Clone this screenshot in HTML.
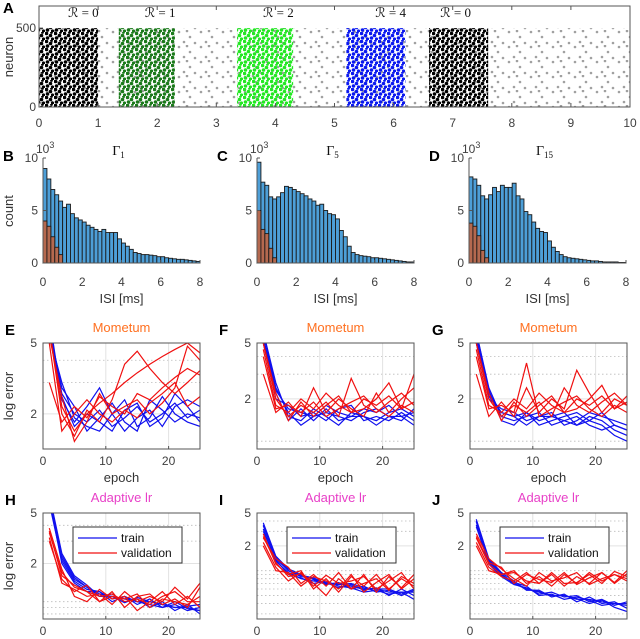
<!DOCTYPE html>
<html><head><meta charset="utf-8">
<style>
html,body{margin:0;padding:0;background:#fff;}
svg{display:block;font-family:"Liberation Sans",sans-serif;}
</style></head>
<body>
<svg id="fig" width="640" height="639" viewBox="0 0 640 639">
<defs>
  <pattern id="grayDots" width="22" height="15" patternUnits="userSpaceOnUse">
    <circle cx="3" cy="2" r="1.3" fill="#a0a0a0"/><circle cx="14" cy="7" r="1.3" fill="#a0a0a0"/>
    <circle cx="8" cy="12" r="1.3" fill="#a0a0a0"/><circle cx="19" cy="13" r="1.3" fill="#a0a0a0"/>
    <circle cx="11" cy="1" r="1.3" fill="#a0a0a0"/>
  </pattern>
  <pattern id="denseBlack" width="9" height="8" patternUnits="userSpaceOnUse">
    <circle cx="1.5" cy="1.5" r="1.8" fill="#000"/><circle cx="5.5" cy="3.5" r="1.8" fill="#000"/><circle cx="2.5" cy="6" r="1.8" fill="#000"/><circle cx="7.5" cy="7" r="1.6" fill="#000"/><circle cx="6.5" cy="0.5" r="1.4" fill="#000"/>
  </pattern>
  <pattern id="denseGreen" width="9" height="8" patternUnits="userSpaceOnUse">
    <circle cx="1.5" cy="1.5" r="1.8" fill="#1a7a1a"/><circle cx="5.5" cy="3.5" r="1.8" fill="#1a7a1a"/><circle cx="2.5" cy="6" r="1.8" fill="#1a7a1a"/><circle cx="7.5" cy="7" r="1.6" fill="#1a7a1a"/><circle cx="6.5" cy="0.5" r="1.4" fill="#1a7a1a"/>
  </pattern>
  <pattern id="denseLime" width="9" height="8" patternUnits="userSpaceOnUse">
    <circle cx="1.5" cy="1.5" r="1.8" fill="#22e822"/><circle cx="5.5" cy="3.5" r="1.8" fill="#22e822"/><circle cx="2.5" cy="6" r="1.8" fill="#22e822"/><circle cx="7.5" cy="7" r="1.6" fill="#22e822"/><circle cx="6.5" cy="0.5" r="1.4" fill="#22e822"/>
  </pattern>
  <pattern id="denseBlue" width="9" height="8" patternUnits="userSpaceOnUse">
    <circle cx="1.5" cy="1.5" r="1.8" fill="#0a18f0"/><circle cx="5.5" cy="3.5" r="1.8" fill="#0a18f0"/><circle cx="2.5" cy="6" r="1.8" fill="#0a18f0"/><circle cx="7.5" cy="7" r="1.6" fill="#0a18f0"/><circle cx="6.5" cy="0.5" r="1.4" fill="#0a18f0"/>
  </pattern>
</defs>
</svg>
<script>
// ---------- Panel A data ----------
const rasterStarts = [0, 1.35, 3.35, 5.2, 6.6];
const rasterEnds   = [1.0, 2.3, 4.3, 6.2, 7.6];
const rasterFills  = ['denseBlack','denseGreen','denseLime','denseBlue','denseBlack'];
const rasterLabels = ['0','1','2','4','0'];
const rasterLabelX = [0.75, 2.05, 4.05, 5.95, 7.05];
const rasterXTicks = [0,1,2,3,4,5,6,7,8,9,10];

// ---------- Histogram data (x10^3) ----------
const histEdges = Array.from({length:40},(_,i)=>i*0.2);
const histB = [9.0,8.0,7.0,6.5,5.9,5.3,5.6,4.7,4.3,4.1,3.9,3.6,3.4,3.2,3.0,3.2,2.9,2.9,2.9,2.3,1.9,1.6,1.3,1.0,0.9,0.8,0.8,0.75,0.7,0.6,0.6,0.5,0.45,0.4,0.35,0.35,0.3,0.25,0.2,0.15];
const histBr = [4.0,3.5,2.5,1.5,0.8];
const histC = [9.6,7.7,7.4,6.3,6.1,6.3,6.7,7.3,7.2,7.0,6.8,6.6,6.4,6.1,5.9,5.5,5.6,5.0,4.7,4.6,4.2,3.1,2.5,1.6,1.0,0.8,0.7,0.65,0.6,0.5,0.5,0.45,0.4,0.35,0.3,0.25,0.2,0.15,0.1,0.1];
const histCr = [5.0,3.2,2.8,1.4,0.5];
const histD = [8.2,8.0,7.4,6.4,6.1,6.5,7.2,6.8,7.4,7.2,7.2,7.6,6.4,6.1,4.9,4.6,3.9,3.3,3.0,2.9,2.1,1.5,1.1,0.8,0.6,0.5,0.45,0.4,0.35,0.3,0.25,0.2,0.2,0.15,0.1,0.1,0.1,0.1,0.05,0.05];
const histDr = [3.8,3.5,2.6,1.2,0.5];
const histXTicks = [0,2,4,6,8];
const histYTicks = [0,5,10];

// ---------- Learning curve data (epochs 1,3,...,25) ----------
const epochs = [1,3,5,7,9,11,13,15,17,19,21,23,25];
const eBlue = [
 [6,2.6,2.0,1.8,2.1,1.7,1.9,2.2,1.8,2.0,2.3,1.9,2.1],
 [5.5,3.0,1.9,1.7,1.6,2.0,2.4,1.7,1.9,2.5,2.0,1.8,1.7],
 [7,2.4,1.8,2.2,2.8,2.0,1.6,1.9,2.1,1.7,2.2,2.4,2.2],
 [6,2.8,2.2,1.6,1.9,2.3,1.8,1.6,2.4,2.1,1.8,2.0,1.9],
 [5.8,2.5,1.7,2.0,1.8,1.6,2.1,2.3,1.7,1.9,2.6,2.2,1.8]];
const eRed = [
 [6,2.2,1.6,2.0,2.3,2.6,3.0,3.4,3.8,4.2,4.6,5,4.4],
 [3.0,1.8,2.2,1.9,2.5,2.2,2.0,2.6,2.4,2.8,3.2,3.6,3.3],
 [6,2.0,1.5,2.1,1.8,2.4,3.8,4.5,3.6,3.0,2.6,3.0,3.5],
 [5,1.6,2.0,2.4,2.0,1.8,2.1,1.9,2.3,2.6,3.0,2.2,2.5],
 [5.5,2.5,1.4,1.8,2.6,2.0,2.2,2.4,2.0,2.3,2.8,4.8,4.0]];
const fBlue = [
 [5.5,2.3,1.7,1.6,1.5,1.8,1.6,1.5,1.7,1.6,1.8,1.5,1.6],
 [6,2.6,1.5,1.4,1.7,1.5,1.3,1.6,1.5,1.4,1.6,1.7,1.5],
 [5,2.0,1.8,1.5,1.6,1.4,1.7,1.8,1.4,1.5,1.4,1.6,1.4],
 [6,2.4,1.6,1.3,1.5,1.6,1.5,1.4,1.6,1.7,1.5,1.4,1.7],
 [5.2,2.2,1.4,1.7,1.4,1.7,1.4,1.5,1.5,1.3,1.5,1.5,1.3]];
const fRed = [
 [4.5,1.8,1.6,2.0,1.7,2.2,1.8,1.6,2.0,1.8,2.1,1.7,1.9],
 [3.0,1.6,1.9,1.5,2.4,1.6,2.0,1.7,1.5,2.2,1.6,2.0,2.4],
 [5,2.0,1.5,1.8,1.6,1.9,1.5,2.8,1.8,1.6,1.9,2.2,1.8],
 [4,1.7,1.8,1.6,1.9,1.5,1.7,1.9,2.1,1.7,1.5,1.8,1.6],
 [5,2.2,1.4,1.9,1.5,1.8,2.1,1.6,1.7,2.0,2.6,1.7,3.0]];
const gBlue = [
 [5.5,2.2,1.6,1.5,1.6,1.4,1.5,1.6,1.3,1.5,1.4,1.2,1.1],
 [6,2.4,1.5,1.4,1.5,1.6,1.3,1.4,1.5,1.3,1.2,1.3,1.2],
 [5,2.0,1.7,1.6,1.4,1.5,1.6,1.3,1.4,1.6,1.5,1.4,1.3],
 [6,2.3,1.4,1.3,1.6,1.3,1.4,1.5,1.6,1.4,1.3,1.1,1.0],
 [5.2,2.1,1.6,1.5,1.3,1.5,1.5,1.4,1.3,1.4,1.6,1.3,1.2]];
const gRed = [
 [4.5,1.8,1.6,2.0,1.7,2.2,1.8,1.6,2.0,1.8,2.1,1.7,1.9],
 [3.0,1.5,1.9,1.5,2.4,1.6,2.0,1.7,3.2,2.2,1.6,2.0,1.8],
 [5,2.0,1.5,1.8,1.6,1.9,1.5,2.4,1.8,1.6,1.9,2.2,1.8],
 [4,1.7,1.8,1.6,3.6,1.5,1.7,1.9,2.1,1.7,1.5,1.8,1.6],
 [5,2.2,1.4,1.9,1.5,1.8,2.1,1.6,1.7,2.0,2.5,1.7,2.1]];
const hBlue = [
 [7,2.2,1.5,1.3,1.15,1.1,1.05,1.0,1.0,0.95,0.9,0.9,0.85],
 [6.5,2.0,1.4,1.2,1.2,1.05,1.1,0.95,1.05,0.9,0.95,0.85,0.9],
 [7,2.4,1.6,1.35,1.1,1.15,1.0,1.05,0.9,1.0,0.85,0.95,0.8],
 [6,2.1,1.45,1.25,1.2,1.0,1.1,1.0,0.95,0.9,1.0,0.88,0.85],
 [6.8,2.3,1.55,1.3,1.1,1.1,0.98,1.08,1.0,0.95,0.9,0.92,0.95]];
const hRed = [
 [3.5,1.7,1.3,1.2,1.1,1.15,1.0,1.05,0.95,1.1,1.2,1.0,1.0],
 [3.0,1.5,1.2,1.35,1.0,1.2,0.9,1.1,1.15,0.95,1.05,0.9,1.3],
 [3.8,1.8,1.1,1.0,1.25,1.05,1.1,0.85,1.0,1.2,0.95,1.1,0.9],
 [3.2,1.4,1.25,1.1,1.15,0.95,1.2,1.0,1.1,1.0,1.3,1.05,1.4],
 [3.6,1.6,1.35,1.2,1.0,1.1,1.05,1.15,0.9,1.05,1.0,0.95,1.1]];
const iBlue = [
 [3.5,1.4,1.0,0.85,0.8,0.7,0.7,0.65,0.6,0.6,0.55,0.55,0.55],
 [3.2,1.3,0.95,0.8,0.75,0.72,0.62,0.68,0.58,0.62,0.5,0.6,0.5],
 [3.8,1.5,1.05,0.9,0.78,0.68,0.72,0.6,0.65,0.55,0.58,0.5,0.58],
 [3.0,1.35,0.9,0.82,0.7,0.75,0.65,0.62,0.55,0.58,0.52,0.55,0.45],
 [3.6,1.45,1.0,0.88,0.82,0.7,0.68,0.7,0.62,0.6,0.6,0.52,0.6]];
const iRed = [
 [2.8,1.2,0.9,1.0,0.6,0.8,0.55,0.85,0.65,0.9,0.6,0.8,0.65],
 [2.2,1.1,0.75,0.95,0.7,0.5,0.8,0.6,0.9,0.55,0.85,0.62,0.9],
 [2.5,1.4,1.1,0.7,0.9,0.65,0.95,0.6,0.7,0.8,0.58,0.85,0.7],
 [2.0,1.0,0.95,0.65,0.85,0.75,0.6,0.9,0.55,0.72,0.9,0.6,0.8],
 [2.6,1.25,0.85,0.92,0.65,0.88,0.7,0.75,0.85,0.6,0.75,0.95,0.6]];
const jBlue = [
 [4.0,1.3,0.9,0.7,0.6,0.55,0.5,0.5,0.45,0.45,0.42,0.4,0.4],
 [3.6,1.2,0.85,0.68,0.62,0.52,0.55,0.48,0.5,0.42,0.45,0.38,0.42],
 [4.2,1.4,0.95,0.75,0.58,0.58,0.48,0.52,0.42,0.48,0.4,0.42,0.35],
 [3.4,1.25,0.88,0.72,0.65,0.5,0.52,0.45,0.48,0.44,0.38,0.4,0.38],
 [3.9,1.35,0.92,0.7,0.6,0.56,0.5,0.5,0.46,0.4,0.44,0.36,0.32]];
const jRed = [
 [2.5,1.2,0.9,1.0,0.7,0.85,0.65,0.9,0.7,0.95,0.75,0.9,0.8],
 [2.2,1.1,0.85,0.75,0.95,0.7,0.9,0.65,0.85,0.7,0.95,0.72,1.0],
 [2.8,1.4,1.05,0.8,0.65,0.95,0.75,0.82,0.95,0.68,0.8,0.9,0.75],
 [2.0,1.0,0.9,0.95,0.75,0.7,0.95,0.7,0.72,0.9,0.7,0.98,0.85],
 [2.6,1.25,1.1,0.7,0.9,0.78,0.72,0.95,0.68,0.82,0.95,0.7,0.92]];

const NS='http://www.w3.org/2000/svg';
const svg=document.getElementById('fig');
function mk(tag,attrs,parent){const e=document.createElementNS(NS,tag);for(const k in attrs)e.setAttribute(k,attrs[k]);(parent||svg).appendChild(e);return e;}
function txt(s,x,y,attrs,parent){const e=mk('text',Object.assign({x:x,y:y},attrs||{}),parent);e.textContent=s;return e;}
const TICK='#404040';

// ---------- Panel A ----------
(function(){
  const L=39,R=630,T=6,B=107,xmin=0,xmax=10,ymax=640;
  const xs=v=>L+(v-xmin)/(xmax-xmin)*(R-L);
  const ys=v=>B-v/ymax*(B-T);
  const g=mk('g',{});
  
  
  const bg=mk('rect',{x:L,y:ys(500),width:R-L,height:B-ys(500),fill:'url(#grayDots)'},g);
  
  
  for(let i=0;i<rasterStarts.length;i++){
    const r=mk('rect',{x:xs(rasterStarts[i]),y:ys(500),width:xs(rasterEnds[i])-xs(rasterStarts[i]),height:B-ys(500),fill:'url(#'+rasterFills[i]+')'},g);
    
    
    const t=txt('\u211B = '+rasterLabels[i],xs(rasterLabelX[i]),17,{'text-anchor':'middle','font-family':'"Liberation Serif","DejaVu Serif",serif','font-size':'13',fill:'#111'},g);
    
    
  }
  const f=mk('rect',{x:L,y:T,width:R-L,height:B-T,fill:'none',stroke:'#555','stroke-width':1},g);
  
  
  rasterXTicks.forEach(v=>{
    mk('line',{x1:xs(v),x2:xs(v),y1:B,y2:B-4,stroke:'#555'},g);
    mk('line',{x1:xs(v),x2:xs(v),y1:T,y2:T+4,stroke:'#555'},g);
    const t=txt(String(v),xs(v),127,{'text-anchor':'middle','font-size':'12',fill:TICK},g);
    
    
  });
  [0,500].forEach(v=>{
    mk('line',{x1:L,x2:L+4,y1:ys(v),y2:ys(v),stroke:'#555'},g);
    const t=txt(String(v),L-3,ys(v)+4,{'text-anchor':'end','font-size':'12',fill:TICK},g);
    
    
  });
  const yl=txt('neuron',0,0,{'text-anchor':'middle','font-size':'13',fill:'#333',transform:'translate(13,57) rotate(-90)'},g);
  
  
  const pl=txt('A',3,13,{'font-size':'15','font-weight':'bold',fill:'#000'},g);
  
  
})();

// ---------- Histograms ----------
function hist(L,letter,sub,blue,red,showY){
  const W=157,T=158,B=263;
  const xs=v=>L+v/8*W, ys=v=>B-v/10*(B-T);
  const g=mk('g',{});
  
  
  blue.forEach((v,i)=>{
    const r=mk('rect',{x:xs(histEdges[i]),y:ys(v),width:xs(0.2)-xs(0),height:B-ys(v),fill:'#4d9fd8',stroke:'#1a1a1a','stroke-width':0.9},g);
    
    
  });
  red.forEach((v,i)=>{
    const r=mk('rect',{x:xs(histEdges[i]),y:ys(v),width:xs(0.2)-xs(0),height:B-ys(v),fill:'#b5694f',stroke:'#1a1a1a','stroke-width':0.9},g);
    
    
  });
  mk('line',{x1:L,x2:L,y1:T,y2:B,stroke:'#555'},g);
  mk('line',{x1:L,x2:L+W,y1:B,y2:B,stroke:'#555'},g);
  histXTicks.forEach(v=>{
    mk('line',{x1:xs(v),x2:xs(v),y1:B,y2:B-3,stroke:'#555'},g);
    const t=txt(String(v),xs(v),286,{'text-anchor':'middle','font-size':'12',fill:TICK},g);
    
    
  });
  histYTicks.forEach(v=>{
    mk('line',{x1:L,x2:L+3,y1:ys(v),y2:ys(v),stroke:'#555'},g);
    const t=txt(String(v),L-5,ys(v)+4,{'text-anchor':'end','font-size':'12',fill:TICK},g);
    
    
  });
  const e=txt('10',L-7,153,{'font-size':'12',fill:TICK},g);
  mk('tspan',{dy:'-5','font-size':'9'},e).textContent='3';
  
  
  const xl=txt('ISI [ms]',L+W/2,303,{'text-anchor':'middle','font-size':'13',fill:'#333'},g);
  
  
  const ti=txt('\u0393',L+W/2-3,155,{'text-anchor':'middle','font-family':'"Liberation Serif",serif','font-size':'14',fill:'#111'},g);
  mk('tspan',{dy:'3','font-size':'9'},ti).textContent=sub;
  
  
  const pl=txt(letter,L-40,161,{'font-size':'15','font-weight':'bold',fill:'#000'},g);
  
  
  if(showY){
    const yl=txt('count',0,0,{'text-anchor':'middle','font-size':'13',fill:'#333',transform:'translate(13,211) rotate(-90)'},g);
    
    
  }
}
hist(43,'B','1',histB,histBr,true);
hist(257,'C','5',histC,histCr,false);
hist(469,'D','15',histD,histDr,false);

// ---------- Learning curves ----------
let clipId=0;
function curves(L,T,ymin,ymax,minor,letter,title,tcolor,blue,red,legend,showY,showXLabel){
  const W=157,H=106,B=T+H;
  const xs=v=>L+v/25*W;
  const ys=v=>B-(Math.log(v)-Math.log(ymin))/(Math.log(ymax)-Math.log(ymin))*H;
  const g=mk('g',{});
  
  
  const cid='clip'+(clipId++);
  const cp=mk('clipPath',{id:cid},g);mk('rect',{x:L,y:T,width:W,height:H},cp);
  minor.forEach(v=>mk('line',{x1:L,x2:L+W,y1:ys(v),y2:ys(v),stroke:'#bbb','stroke-dasharray':'1.5,2.5','stroke-width':0.8},g));
  [2,5].forEach(v=>mk('line',{x1:L,x2:L+W,y1:ys(v),y2:ys(v),stroke:'#e2e2e2'},g));
  [10,20].forEach(v=>mk('line',{x1:xs(v),x2:xs(v),y1:T,y2:B,stroke:'#e2e2e2'},g));
  const lg=mk('g',{'clip-path':'url(#'+cid+')'},g);
  const draw=(arr,col,nm)=>arr.forEach(s=>{
    const p=mk('polyline',{points:s.map((v,i)=>xs(epochs[i])+','+ys(v)).join(' '),fill:'none',stroke:col,'stroke-width':1.2},lg);
    
    
  });
  draw(blue,'#1010ee','train-curve');
  draw(red,'#f01010','validation-curve');
  mk('rect',{x:L,y:T,width:W,height:H,fill:'none',stroke:'#555'},g);
  [0,10,20].forEach(v=>{
    mk('line',{x1:xs(v),x2:xs(v),y1:B,y2:B-3,stroke:'#555'},g);
    const t=txt(String(v),xs(v),B+16,{'text-anchor':'middle','font-size':'12',fill:TICK},g);
    
    
  });
  [2,5].forEach(v=>{
    const t=txt(String(v),L-6,ys(v)+4,{'text-anchor':'end','font-size':'12',fill:TICK},g);
    
    
  });
  const ti=txt(title,L+W/2,T-11,{'text-anchor':'middle','font-size':'13',fill:tcolor},g);
  
  
  const pl=txt(letter,L-38,T-8,{'font-size':'15','font-weight':'bold',fill:'#000'},g);
  
  
  if(showY){
    const yl=txt('log error',0,0,{'text-anchor':'middle','font-size':'13',fill:'#333',transform:'translate(13,'+(T+H/2)+') rotate(-90)'},g);
    
    
  }
  if(showXLabel){
    const xl=txt('epoch',L+W/2,B+33,{'text-anchor':'middle','font-size':'13',fill:'#333'},g);
    
    
  }
  if(legend){
    const lgd=mk('g',{},g);
    
    
    mk('rect',{x:L+30,y:T+14,width:109,height:36,fill:'#fff',stroke:'#333'},lgd);
    mk('line',{x1:L+35,x2:L+74,y1:T+25,y2:T+25,stroke:'#1010ee','stroke-width':1.3},lgd);
    mk('line',{x1:L+35,x2:L+74,y1:T+40,y2:T+40,stroke:'#f01010','stroke-width':1.3},lgd);
    const a=txt('train',L+78,T+29,{'font-size':'12',fill:'#111'},lgd);
    
    
    const b=txt('validation',L+78,T+44,{'font-size':'12',fill:'#111'},lgd);
    
    
  }
}
curves(43,343,1.27,5,[3,4],'E','Mometum','#ff7020',eBlue,eRed,false,true,true);
curves(257,343,0.88,5,[1,3,4],'F','Mometum','#ff7020',fBlue,fRed,false,false,true);
curves(470,343,0.88,5,[1,3,4],'G','Mometum','#ff7020',gBlue,gRed,false,false,true);
curves(43,513,0.73,5,[0.8,0.9,1,3,4],'H','Adaptive lr','#e840c8',hBlue,hRed,true,true,false);
curves(257,513,0.26,5,[0.3,0.4,0.5,0.6,0.7,0.8,0.9,1,3,4],'I','Adaptive lr','#e840c8',iBlue,iRed,true,false,false);
curves(470,513,0.26,5,[0.3,0.4,0.5,0.6,0.7,0.8,0.9,1,3,4],'J','Adaptive lr','#e840c8',jBlue,jRed,true,false,false);
</script>
</body></html>
